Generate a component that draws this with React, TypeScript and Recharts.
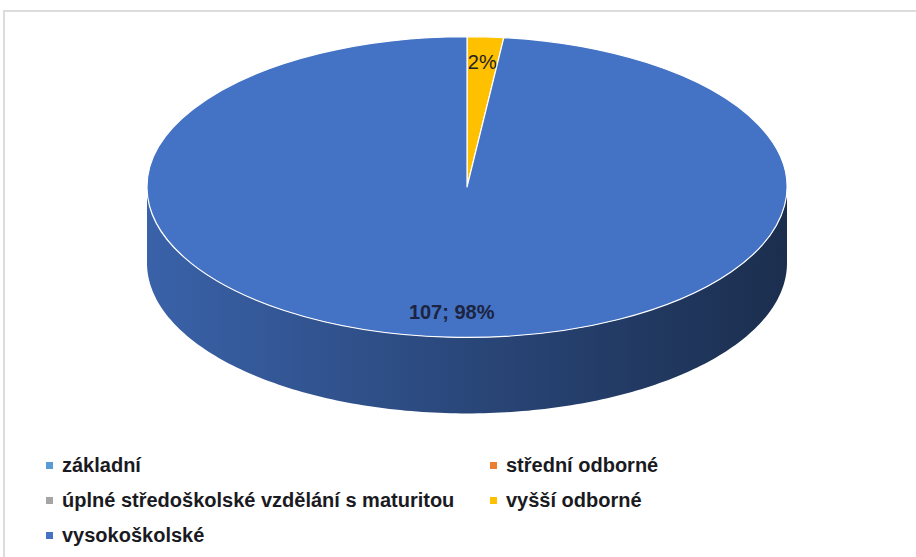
import React from 'react';
import { PieChart, Pie, Cell, Legend } from 'recharts';

// education levels of respondents
const NAMES = [
  'základní',
  'střední odborné',
  'úplné středoškolské vzdělání s maturitou',
  'vyšší odborné',
  'vysokoškolské',
];
const VALUES = [0, 0, 0, 2, 107];
const COLORS = ['#5B9BD5', '#ED7D31', '#A5A5A5', '#FFC000', '#4472C4'];
const SHOW_VALUE = [false, false, false, false, true];

const data = NAMES.map((name, i) => ({ name, value: VALUES[i] }));

const RAD = Math.PI / 180;
const TILT = 0.47; // vertical squash of the top face
const DEPTH = 76; // thickness of the disc
const FONT = '"Liberation Sans", Arial, sans-serif';

const shade = (hex: string, f: number) => {
  const n = parseInt(hex.slice(1), 16);
  const r = Math.round(((n >> 16) & 255) * f);
  const g = Math.round(((n >> 8) & 255) * f);
  const b = Math.round((n & 255) * f);
  return `rgb(${r},${g},${b})`;
};

const Sector3D = (props: any) => {
  const { cx, cy, outerRadius, startAngle, endAngle, fill } = props;
  if (Math.abs(endAngle - startAngle) < 0.01) return <g />;
  const rx = outerRadius;
  const ry = outerRadius * TILT;
  const pt = (a: number, dy = 0) => [cx + rx * Math.cos(a * RAD), cy - ry * Math.sin(a * RAD) + dy];

  // visible side wall = part of the slice lying on the front half
  const lo = Math.min(startAngle, endAngle);
  const hi = Math.max(startAngle, endAngle);
  const sides: string[] = [];
  for (let k = -720; k <= 720; k += 360) {
    const a1 = Math.max(lo, -180 + k);
    const a2 = Math.min(hi, k);
    if (a2 - a1 > 0.01) {
      const top: number[][] = [];
      const bot: number[][] = [];
      for (let a = a1; a < a2; a += 1) {
        top.push(pt(a));
        bot.push(pt(a, DEPTH));
      }
      top.push(pt(a2));
      bot.push(pt(a2, DEPTH));
      const pts = [...top, ...bot.reverse()];
      sides.push('M' + pts.map((p) => `${p[0].toFixed(2)},${p[1].toFixed(2)}`).join('L') + 'Z');
    }
  }

  const p1 = pt(startAngle);
  const p2 = pt(endAngle);
  const large = hi - lo > 180 ? 1 : 0;
  const sweep = endAngle < startAngle ? 1 : 0;
  const topPath = `M${cx},${cy}L${p1[0]},${p1[1]}A${rx},${ry} 0 ${large} ${sweep} ${p2[0]},${p2[1]}Z`;
  const gid = `side-${String(fill).replace('#', '')}`;

  return (
    <g>
      <defs>
        <linearGradient id={gid} gradientUnits="userSpaceOnUse" x1={cx - rx} y1={0} x2={cx + rx} y2={0}>
          <stop offset="0%" stopColor={shade(fill, 0.86)} />
          <stop offset="50%" stopColor={shade(fill, 0.62)} />
          <stop offset="100%" stopColor={shade(fill, 0.4)} />
        </linearGradient>
      </defs>
      {sides.map((d, i) => (
        <path key={i} d={d} fill={`url(#${gid})`} />
      ))}
      <path d={topPath} fill={fill} stroke="#ffffff" strokeWidth={1.2} strokeLinejoin="round" />
    </g>
  );
};

const renderLabel = (props: any) => {
  const { cx, cy, midAngle, outerRadius, value, percent, index } = props;
  if (!value) return null;
  const r = 0.83;
  const x = cx + outerRadius * r * Math.cos(midAngle * RAD);
  const y = cy - outerRadius * TILT * r * Math.sin(midAngle * RAD);
  const pct = `${Math.round(percent * 100)}%`;
  const withValue = SHOW_VALUE[index];
  return (
    <text
      x={x}
      y={y}
      textAnchor="middle"
      dominantBaseline="central"
      fontFamily={FONT}
      fontSize={20}
      fontWeight={withValue ? 'bold' : 'normal'}
      fill={withValue ? '#1B2440' : '#222222'}
    >
      {withValue ? `${value}; ${pct}` : pct}
    </text>
  );
};

// legend keeps the series order (two columns, row by row)
const renderLegend = () => (
  <div
    style={{
      display: 'grid',
      gridTemplateColumns: '444px 400px',
      paddingLeft: 46,
      fontFamily: FONT,
      fontSize: 20,
      fontWeight: 'bold',
      color: '#1a1a22',
    }}
  >
    {NAMES.map((name, i) => (
      <div key={name} style={{ display: 'flex', alignItems: 'center', height: 35, whiteSpace: 'nowrap' }}>
        <span style={{ width: 7, height: 7, background: COLORS[i], marginRight: 9, display: 'inline-block' }} />
        <span>{name}</span>
      </div>
    ))}
  </div>
);

export default function App() {
  return (
    <div style={{ position: 'absolute', left: 0, top: 0, width: 916, height: 557, background: '#fff', overflow: 'hidden' }}>
      <div
        style={{
          position: 'absolute',
          left: 3,
          top: 10,
          width: 940,
          height: 600,
          border: '2px solid #dcdcdc',
        }}
      />
      <PieChart width={916} height={557} margin={{ top: 0, right: 0, bottom: 0, left: 0 }}>
        <Pie
          data={data}
          dataKey="value"
          nameKey="name"
          cx={467}
          cy={187}
          outerRadius={320}
          startAngle={90}
          endAngle={-270}
          stroke="none"
          label={renderLabel}
          labelLine={false}
          shape={Sector3D}
          inactiveShape={Sector3D}
          activeShape={Sector3D}
          isAnimationActive={false}
        >
          {data.map((d, i) => (
            <Cell key={d.name} fill={COLORS[i]} />
          ))}
        </Pie>
        <Legend content={renderLegend} wrapperStyle={{ top: 448, left: 0, width: 916 }} />
      </PieChart>
    </div>
  );
}
